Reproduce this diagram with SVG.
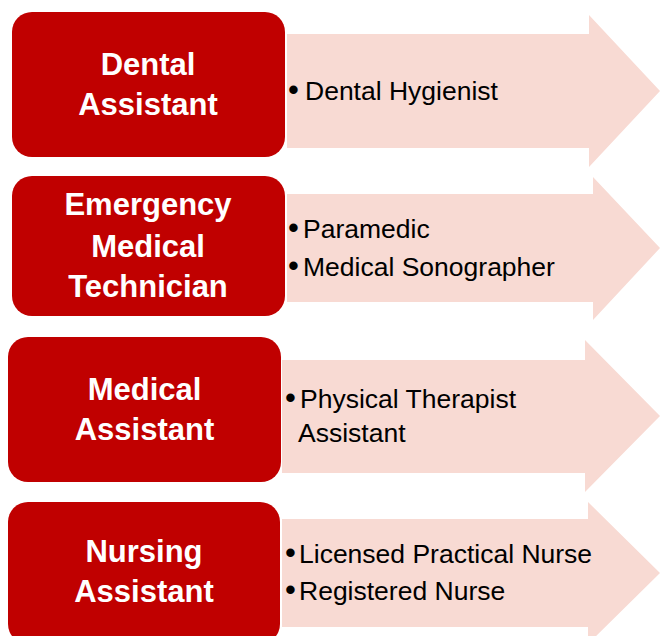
<svg xmlns="http://www.w3.org/2000/svg" width="660" height="636" viewBox="0 0 660 636">
<style>
.box{fill:#C00000;}
.arrow{fill:#F8DAD3;}
.lbl{font-family:"Liberation Sans",Arial,sans-serif;font-weight:bold;font-size:31px;fill:#FFFFFF;text-anchor:middle;}
.item{font-family:"Liberation Sans",Arial,sans-serif;font-size:26.5px;fill:#000000;}
.bul{font-size:31px;}
</style>
<rect width="660" height="636" fill="#FFFFFF"/>
<g id="connectors">
<polygon class="arrow" points="287,34 589,34 589,15 660,91 589,167 589,148 287,148"/>
<polygon class="arrow" points="287,194 593,194 593,177 660,248 593,320 593,302 287,302"/>
<polygon class="arrow" points="282,360 585,360 585,340 660,416 585,492 585,473 282,473"/>
<polygon class="arrow" points="282,519 588,519 588,502 660,573 588,644 588,627 282,627"/>
</g>
<g id="node-dental">
<rect class="box" x="12" y="12" width="273" height="145" rx="20"/>
<text class="lbl" x="148" y="75">Dental</text>
<text class="lbl" x="148" y="115">Assistant</text>
<text class="item" y="100"><tspan class="bul" x="288">•</tspan><tspan x="305">Dental Hygienist</tspan></text>
</g>
<g id="node-emt">
<rect class="box" x="12" y="176" width="273" height="140" rx="20"/>
<text class="lbl" x="148" y="215">Emergency</text>
<text class="lbl" x="148" y="257">Medical</text>
<text class="lbl" x="148" y="297">Technician</text>
<text class="item" y="238"><tspan class="bul" x="288">•</tspan><tspan x="303">Paramedic</tspan></text>
<text class="item" y="276"><tspan class="bul" x="288">•</tspan><tspan x="303">Medical Sonographer</tspan></text>
</g>
<g id="node-medical">
<rect class="box" x="8" y="337" width="273" height="145" rx="20"/>
<text class="lbl" x="144.5" y="400">Medical</text>
<text class="lbl" x="144.5" y="440">Assistant</text>
<text class="item" y="408"><tspan class="bul" x="285">•</tspan><tspan x="300">Physical Therapist</tspan></text>
<text class="item" x="298" y="442">Assistant</text>
</g>
<g id="node-nursing">
<rect class="box" x="8" y="502" width="272" height="142" rx="20"/>
<text class="lbl" x="144" y="562">Nursing</text>
<text class="lbl" x="144" y="602">Assistant</text>
<text class="item" y="563"><tspan class="bul" x="285">•</tspan><tspan x="299">Licensed Practical Nurse</tspan></text>
<text class="item" y="600"><tspan class="bul" x="285">•</tspan><tspan x="299">Registered Nurse</tspan></text>
</g>
</svg>
